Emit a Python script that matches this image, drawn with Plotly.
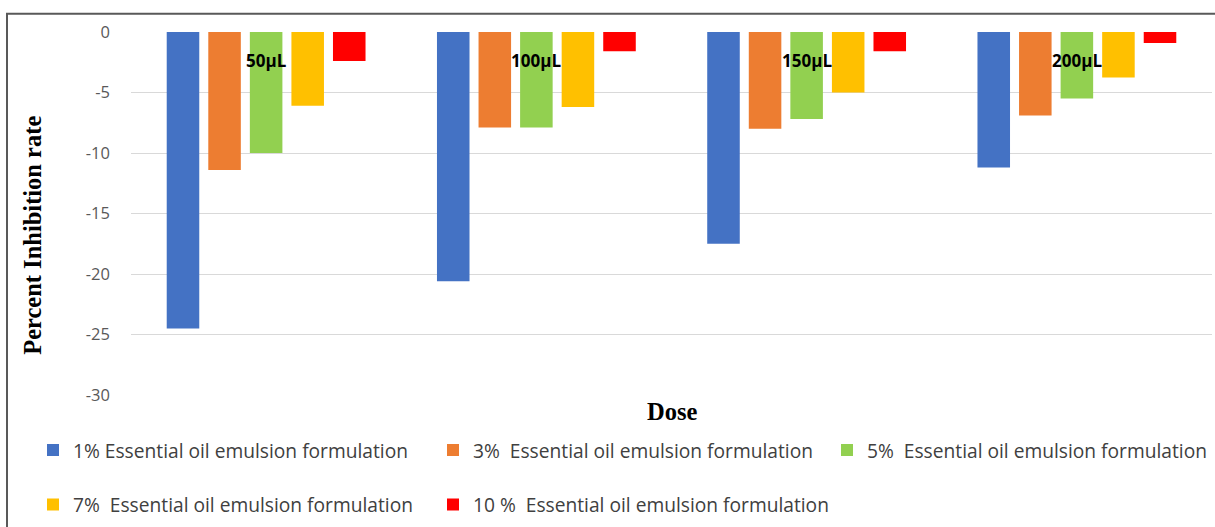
import plotly.graph_objects as go

# Dose groups and percent inhibition for each emulsion strength
doses = ["50µL", "100µL", "150µL", "200µL"]
series_names = [
    "1% Essential oil emulsion formulation",
    "3%\u00a0\u00a0Essential oil emulsion formulation",
    "5%\u00a0\u00a0Essential oil emulsion formulation",
    "7%\u00a0\u00a0Essential oil emulsion formulation",
    "10\u00a0%\u00a0\u00a0Essential oil emulsion formulation",
]
inhib_1pct = [-24.5, -20.6, -17.5, -11.2]
inhib_3pct = [-11.4, -7.9, -8.0, -6.9]
inhib_5pct = [-10.0, -7.9, -7.2, -5.5]
inhib_7pct = [-6.1, -6.2, -5.0, -3.75]
inhib_10pct = [-2.4, -1.6, -1.6, -0.9]
y_ticks = [0, -5, -10, -15, -20, -25, -30]

series_values = [inhib_1pct, inhib_3pct, inhib_5pct, inhib_7pct, inhib_10pct]
colors = ["#4472C4", "#ED7D31", "#92D050", "#FFC000", "#FF0000"]

W, H = 1215, 527
PL, PR, PT, PB = 131, 1212, 31.5, 397.5  # plot area in pixels


def px_x(p):
    return (p - PL) / (PR - PL)


def px_y(p):
    return (PB - p) / (PB - PT)


legend_ids = ["legend", "legend2", "legend3", "legend4", "legend5"]
# legend entries: (text start x, row centre y) in pixels
text_starts = [(74, 453), (474, 453), (868, 453), (74, 508), (474, 508)]
TEXT_OFFSET = 41

fig = go.Figure()
for name, vals, col, lid in zip(series_names, series_values, colors, legend_ids):
    fig.add_trace(go.Bar(
        x=doses, y=vals, name=name, legend=lid,
        marker=dict(color=col, line=dict(width=0)),
    ))

legend_font = dict(family="Open Sans", size=19.2, color="#404040")
layout_legends = {}
for lid, (tx, ly) in zip(legend_ids, text_starts):
    layout_legends[lid] = dict(
        x=px_x(tx - TEXT_OFFSET), y=px_y(ly), xanchor="left", yanchor="middle",
        orientation="h", font=legend_font, bgcolor="rgba(0,0,0,0)",
        borderwidth=0, itemclick=False,
    )

annotations = [
    dict(x=d, y=-2.33, xref="x", yref="y", text=f"<b>{d}</b>", showarrow=False,
         font=dict(family="Open Sans", size=17, color="#000000"),
         xanchor="center", yanchor="middle")
    for d in doses
]
annotations.append(dict(
    x=px_x(33), y=px_y(237), xref="paper", yref="paper",
    text="<b>Percent Inhibition rate</b>", textangle=-90, showarrow=False,
    font=dict(family="Liberation Serif", size=24.5, color="#000000"),
    xanchor="center", yanchor="middle"))
annotations.append(dict(
    x=px_x(672), y=px_y(414), xref="paper", yref="paper",
    text="<b>Dose</b>", showarrow=False,
    font=dict(family="Liberation Serif", size=24.5, color="#000000"),
    xanchor="center", yanchor="middle"))

fig.update_layout(
    width=W, height=H,
    margin=dict(l=PL, r=W - PR, t=PT, b=H - PB, pad=0),
    paper_bgcolor="white", plot_bgcolor="white",
    barmode="group", bargap=0.231, bargroupgap=0.217,
    showlegend=True,
    annotations=annotations,
    shapes=[dict(
        type="rect", xref="paper", yref="paper", layer="above",
        x0=px_x(7), x1=px_x(1240), y0=px_y(560), y1=px_y(13),
        line=dict(color="#595959", width=2), fillcolor="rgba(0,0,0,0)")],
    xaxis=dict(showticklabels=False, showgrid=False, zeroline=False,
               showline=False, ticks=""),
    yaxis=dict(range=[-30, 0], tickvals=y_ticks, ticktext=[str(t) for t in y_ticks],
               showgrid=True, gridcolor="#D9D9D9", gridwidth=1,
               zeroline=False, showline=False, ticks="",
               ticklabelstandoff=20,
               tickfont=dict(family="Open Sans", size=16.5, color="#595959")),
    **layout_legends,
)

fig.write_html("out.html")
